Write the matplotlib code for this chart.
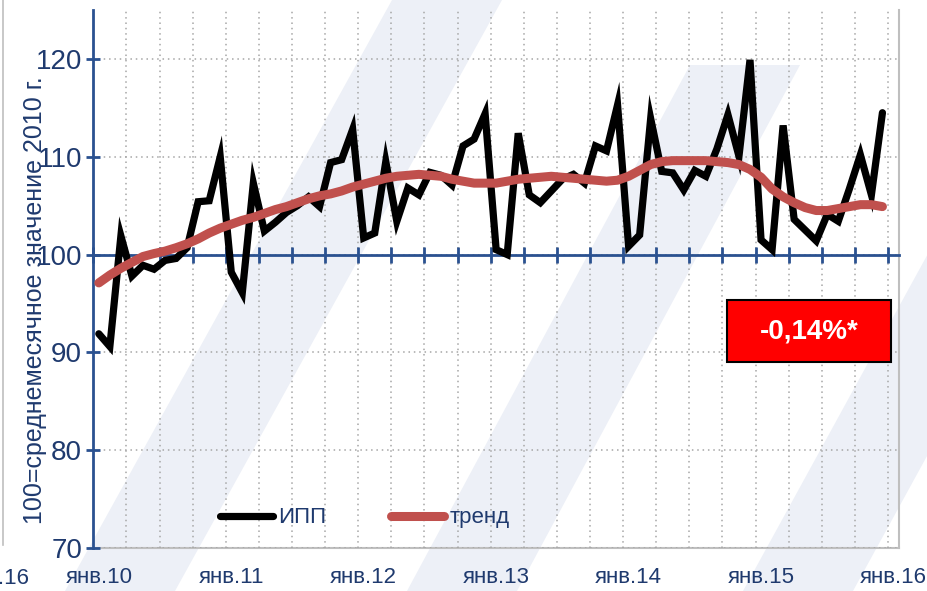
import numpy as np
import matplotlib
matplotlib.use("Agg")
import matplotlib.pyplot as plt
from matplotlib.patches import Polygon, Rectangle
from matplotlib.lines import Line2D

plt.rcParams['font.family'] = ['Liberation Sans Narrow', 'Liberation Sans', 'DejaVu Sans']

# monthly index of industrial production, Jan 2010 .. Dec 2015 (100 = avg 2010)
ipp = [91.9, 90.6, 101.9, 97.8, 98.9, 98.5, 99.4, 99.6, 100.7, 105.4, 105.5, 110.0,
       98.2, 96.1, 107.3, 102.4, 103.3, 104.3, 105.0, 105.9, 104.9, 109.4, 109.7, 112.8,
       101.7, 102.2, 109.5, 103.4, 106.8, 106.1, 108.4, 108.1, 107.1, 111.1, 111.8, 114.4,
       100.5, 100.0, 112.4, 106.1, 105.3, 106.5, 107.7, 108.2, 107.3, 111.1, 110.6, 115.3,
       100.85, 102.0, 113.9, 108.5, 108.35, 106.6, 108.6, 108.0, 110.8, 114.3, 110.05, 119.9,
       101.5, 100.5, 113.2, 103.6, 102.5, 101.4, 104.1, 103.4, 106.7, 110.2, 106.1, 114.5]
trend = [97.1, 97.9, 98.6, 99.2, 99.8, 100.1, 100.35, 100.7, 101.1, 101.6, 102.2, 102.7,
         103.1, 103.5, 103.8, 104.2, 104.6, 104.9, 105.3, 105.7, 106.0, 106.2, 106.5, 106.9,
         107.2, 107.5, 107.8, 108.0, 108.1, 108.2, 108.1, 108.0, 107.7, 107.5, 107.3, 107.3,
         107.3, 107.5, 107.7, 107.8, 107.9, 108.0, 107.9, 107.8, 107.7, 107.6, 107.5, 107.6,
         108.0, 108.6, 109.2, 109.5, 109.6, 109.6, 109.6, 109.6, 109.5, 109.4, 109.2, 108.7,
         107.9, 106.7, 105.9, 105.3, 104.8, 104.5, 104.5, 104.7, 104.9, 105.1, 105.1, 104.9]
year_labels = ["янв.10", "янв.11", "янв.12", "янв.13", "янв.14", "янв.15", "янв.16"]
n_cat = 73  # axis runs through янв.16

navy = '#1F3A6E'
axis_blue = '#2A5190'
grid_gray = '#A6A6A6'

W, H = 928, 591
fig = plt.figure(figsize=(W / 100, H / 100), dpi=100)

# faint background watermark bands (pixel coords -> figure coords)
def px(pts):
    return [(x / W, 1 - y / H) for x, y in pts]

band_col = '#EDF0F7'
bands = [
    [(65, 591), (175, 591), (502, 0), (392, 0)],
    [(407, 591), (517, 591), (800, 65), (690, 65)],
    [(743, 591), (853, 591), (1040, 250), (930, 250)],
]
for b in bands:
    fig.add_artist(Polygon(px(b), closed=True, facecolor=band_col, edgecolor='none',
                           transform=fig.transFigure, zorder=-5))

# piece of neighbouring chart on the far left
fig.add_artist(Line2D([3 / W, 3 / W], [1 - 545 / H, 1.0], color='#BFBFBF', lw=1.2,
                      transform=fig.transFigure))
fig.text(-2 / W, 1 - 578 / H, ".16", fontsize=16, color=navy, va='center', ha='left')

ax = fig.add_axes([93.3 / W, 1 - 548 / H, 805.7 / W, 538 / H])
ax.set_facecolor('none')

x = np.arange(len(ipp))
ax.plot(x, ipp, color='black', lw=5.2, solid_joinstyle='miter', solid_capstyle='round',
        label='ИПП', zorder=4)
ax.plot(x, trend, color='#C0504D', lw=6.5, solid_capstyle='round', label='тренд', zorder=5)

ax.set_xlim(-0.5, n_cat - 0.5)
ax.set_ylim(70, 125)

# horizontal axis crosses at 100
ax.spines['bottom'].set_position(('data', 100))
ax.spines['bottom'].set_color(axis_blue)
ax.spines['bottom'].set_linewidth(2)
ax.spines['left'].set_color(axis_blue)
ax.spines['left'].set_linewidth(2)
ax.spines['top'].set_visible(False)
ax.spines['right'].set_color('#BFBFBF')
ax.spines['right'].set_linewidth(1.5)

ax.set_xticks(np.arange(-0.5, n_cat, 3))
ax.tick_params(axis='x', direction='inout', length=11, width=2, color=axis_blue,
               labelbottom=False)
ax.set_yticks(np.arange(70, 121, 10))
ax.tick_params(axis='y', direction='inout', length=10, width=2, color=axis_blue,
               labelsize=20, labelcolor=navy, pad=3)

ax.grid(True, color=grid_gray, linestyle=(0, (1, 2.5)), linewidth=1.1)
ax.set_axisbelow(True)

# year labels along the bottom edge of the plot area
sec = ax.secondary_xaxis('bottom')
sec.set_xticks(np.arange(0, n_cat, 12))
sec.set_xticklabels(year_labels)
sec.tick_params(length=0, labelsize=16, labelcolor=navy, pad=14)
sec.spines['bottom'].set_color('#BFBFBF')
sec.spines['bottom'].set_linewidth(1.5)

fig.text(35 / W, 1 - 300 / H, "100=среднемесячное значение 2010 г.", rotation=90,
         fontsize=18, color=navy, ha='center', va='center')

leg = ax.legend(loc='center', bbox_to_anchor=(0.337, 0.056), ncol=2, frameon=False,
                fontsize=16, handlelength=2.4, handletextpad=0.25, columnspacing=2.9)
for t in leg.get_texts():
    t.set_color(navy)

# highlighted box
ax.add_patch(Rectangle((0.7865, 0.3457), 0.2035, 0.1153, transform=ax.transAxes,
                       facecolor='#FF0000', edgecolor='black', lw=1.5, zorder=6))
ax.text(0.888, 0.403, "-0,14%*", transform=ax.transAxes, ha='center', va='center',
        fontsize=20, fontweight='bold', color='white',
        family=['Liberation Sans', 'DejaVu Sans'], zorder=7)

fig.savefig("out.png", dpi=100)
